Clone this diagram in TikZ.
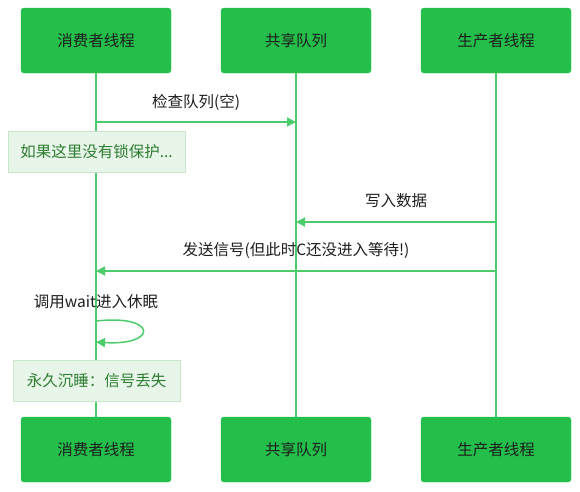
\documentclass[tikz,border=0pt]{standalone}
\usepackage{fontspec}
\setmainfont{Noto Sans CJK SC}
\usetikzlibrary{arrows.meta}
\definecolor{boxg}{RGB}{36,190,74}
\definecolor{lineg}{RGB}{76,204,106}
\definecolor{notef}{RGB}{232,245,233}
\definecolor{noteb}{RGB}{200,230,201}
\definecolor{notet}{RGB}{46,125,50}
\definecolor{txt}{RGB}{30,30,30}
\begin{document}
\begin{tikzpicture}[x=1pt,y=-1pt,
  actor/.style={draw=boxg,fill=boxg,rounded corners=3pt,minimum width=150pt,minimum height=65pt,inner sep=0pt,font=\fontsize{15.5}{18}\selectfont,text=txt},
  life/.style={draw=lineg,line width=1.5pt},
  msg/.style={draw=lineg,line width=1.5pt,-{Triangle[length=9pt,width=9pt]}},
  lbl/.style={font=\fontsize{15.5}{18}\selectfont,text=txt,inner sep=0pt},
  note/.style={draw=noteb,fill=notef,line width=1pt,inner sep=0pt,font=\fontsize{15.5}{18}\selectfont,text=notet}]
\useasboundingbox (0,0) rectangle (580,491);
\node[actor] (c1) at (96,40.5) {消费者线程};
\node[actor] (q1) at (296,40.5) {共享队列};
\node[actor] (p1) at (496,40.5) {生产者线程};
\node[actor] (c2) at (96,449.5) {消费者线程};
\node[actor] (q2) at (296,449.5) {共享队列};
\node[actor] (p2) at (496,449.5) {生产者线程};
\draw[life] (c1.south) -- (c2.north);
\draw[life] (q1.south) -- (q2.north);
\draw[life] (p1.south) -- (p2.north);
\coordinate (m1a) at (96,122);
\coordinate (m1b) at (296,122);
\draw[msg] (m1a) -- (m1b);
\node[lbl] (l1) at (196,102) {检查队列(空)};
\node[note,minimum width=177pt,minimum height=41pt] (n1) at (96.5,151.5) {如果这里没有锁保护...};
\coordinate (m2a) at (496,222);
\coordinate (m2b) at (296,222);
\draw[msg] (m2a) -- (m2b);
\node[lbl] (l2) at (396,201) {写入数据};
\coordinate (m3a) at (496,271);
\coordinate (m3b) at (96,271);
\draw[msg] (m3a) -- (m3b);
\node[lbl] (l3) at (296,250) {发送信号(但此时C还没进入等待!)};
\node[lbl] (l4) at (96,302) {调用wait进入休眠};
\coordinate (s1) at (96,321);
\coordinate (s2) at (96,342);
\draw[msg] (s1) .. controls (158,314) and (158,346) .. (s2);
\node[note,minimum width=167pt,minimum height=41pt] (n2) at (96.5,380.5) {永久沉睡：信号丢失};
\end{tikzpicture}
\end{document}
